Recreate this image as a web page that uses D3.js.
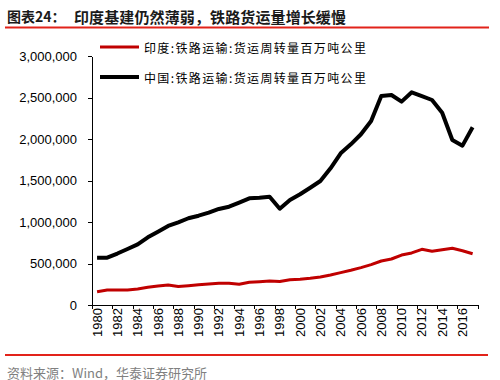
<!DOCTYPE html>
<html><head><meta charset="utf-8">
<script src="https://cdn.jsdelivr.net/npm/d3@7"></script>
<style>
html,body{margin:0;padding:0;background:#fff;}
svg{display:block;}
</style>
</head><body>
<svg id="c" width="500" height="380"></svg>
<script>
const years = d3.range(1980, 2018);
const tickYears = d3.range(1980, 2018, 2);
const yTicks = [0, 500000, 1000000, 1500000, 2000000, 2500000, 3000000];
const seriesNames = ["印度:铁路运输:货运周转量百万吨公里", "中国:铁路运输:货运周转量百万吨公里"];
const india = [160000,180000,180000,182000,193000,213000,229000,241000,223000,233000,
               245000,253000,261000,261000,250000,273000,281000,289000,283000,305000,
               309000,321000,337000,361000,390000,418000,450000,486000,530000,554000,
               602000,627000,671000,647000,666000,683000,654000,618000];
const china = [570000,570000,620000,675000,730000,815000,883000,952000,996000,1045000,
               1076000,1112000,1157000,1184000,1233000,1285000,1293000,1305000,1160000,1265000,
               1334000,1413000,1494000,1647000,1828000,1936000,2057000,2217000,2518000,2530000,
               2450000,2563000,2518000,2470000,2317000,1988000,1920000,2141000];

const svg = d3.select("#c");
const sans = "'Liberation Sans', Arial, sans-serif";
const cjk = "'Noto Sans CJK SC', 'Noto Sans', sans-serif";

// Title
const title = svg.append("text").attr("y", 16).attr("dominant-baseline", "central")
  .attr("font-family", cjk).attr("font-weight", "bold").attr("fill", "#1a1a1a");
title.append("tspan").attr("x", 7).attr("font-size", 14).text("图表24：");
title.append("tspan").attr("x", 74).attr("font-size", 15).attr("textLength", 272).text("印度基建仍然薄弱，铁路货运量增长缓慢");

svg.append("rect").attr("x", 5).attr("y", 26.5).attr("width", 484).attr("height", 2).attr("fill", "#E2231A");
svg.append("rect").attr("x", 5).attr("y", 354).attr("width", 483).attr("height", 2).attr("fill", "#E2231A");

svg.append("text").attr("x", 7).attr("y", 372).attr("dominant-baseline", "central")
  .attr("font-family", cjk).attr("font-size", 13).attr("fill", "#808080")
  .attr("textLength", 200).text("资料来源：Wind，华泰证券研究所");

// Scales
const x = d3.scaleBand().domain(years).range([92, 477.7]).padding(0);
const y = d3.scaleLinear().domain([0, 3000000]).range([305, 56]);
const cx = d => x(d) + x.bandwidth() / 2;

// Y axis
const ya = svg.append("g").attr("transform", "translate(92,0)")
  .call(d3.axisLeft(y).tickValues(yTicks).tickSize(4).tickSizeOuter(0).tickPadding(11).tickFormat(d3.format(",")));
ya.selectAll("text").attr("font-family", sans).attr("font-size", 13).attr("fill", "#000");
ya.selectAll("line,path").attr("stroke", "#000").attr("shape-rendering", "crispEdges");

// X axis
const xa = svg.append("g").attr("transform", "translate(0,305)")
  .call(d3.axisBottom(x).tickValues(tickYears).tickSize(0).tickSizeOuter(0));
xa.selectAll("path").attr("stroke", "#000").attr("shape-rendering", "crispEdges");
xa.selectAll("text").attr("font-family", sans).attr("font-size", 13).attr("fill", "#000")
  .attr("transform", "rotate(-90)").attr("text-anchor", "end")
  .attr("x", -3).attr("y", 0).attr("dy", "0.35em");
const bounds = tickYears.map(d => x(d)).concat([x.range()[1]]);
svg.append("g").selectAll("line").data(bounds).join("line")
  .attr("x1", d => Math.round(d) + 0.5).attr("x2", d => Math.round(d) + 0.5)
  .attr("y1", 305).attr("y2", 309).attr("stroke", "#000");

// Lines
const line = d3.line().x((d, i) => cx(years[i])).y(d => y(d));
svg.append("path").datum(india).attr("d", line).attr("fill", "none")
  .attr("stroke", "#C00000").attr("stroke-width", 3).attr("stroke-linejoin", "round");
svg.append("path").datum(china).attr("d", line).attr("fill", "none")
  .attr("stroke", "#000").attr("stroke-width", 4).attr("stroke-linejoin", "round");

// Legend
const legend = [{name: seriesNames[0], color: "#C00000", w: 3, yy: 47},
                {name: seriesNames[1], color: "#000", w: 4, yy: 77}];
const lg = svg.append("g").selectAll("g").data(legend).join("g");
lg.append("line").attr("x1", 100).attr("x2", 139).attr("y1", d => d.yy).attr("y2", d => d.yy)
  .attr("stroke", d => d.color).attr("stroke-width", d => d.w);
lg.append("text").attr("x", 144).attr("y", d => d.yy).attr("dominant-baseline", "central")
  .attr("font-family", cjk).attr("font-size", 12).attr("fill", "#000")
  .attr("textLength", 222).text(d => d.name);
</script>
</body></html>
